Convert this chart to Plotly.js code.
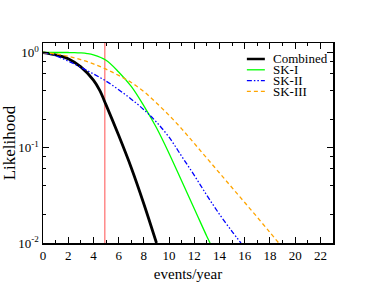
<!DOCTYPE html>
<html><head><meta charset="utf-8">
<script src="https://cdn.plot.ly/plotly-3.0.1.min.js"></script>
<style>html,body{margin:0;padding:0;background:#fff}#c{width:374px;height:289px}</style>
</head><body><div id="c"></div>
<script>
// Data (likelihood values, read on the log scale)
const seriesNames = ["Combined", "SK-I", "SK-II", "SK-III"];
const combinedX = [0, 1, 2, 3, 4, 4.5, 5, 6, 7, 8, 9];
const combinedY = [1.0, 0.946, 0.861, 0.708, 0.513, 0.40, 0.282, 0.135, 0.0617, 0.0257, 0.0100];
const sk1X = [0, 1, 2, 2.5, 3, 3.5, 4, 5, 6, 7, 8, 9, 10, 11, 12, 13, 13.25];
const sk1Y = [1.0, 1.0, 1.0, 0.998, 0.99, 0.975, 0.945, 0.83, 0.625, 0.44, 0.275, 0.162, 0.0871, 0.0447, 0.0229, 0.0117, 0.0100];
const sk2X = [0, 1, 2, 3, 4, 5, 6, 7, 8, 9, 10, 11, 12, 13, 14, 15, 15.7];
const sk2Y = [1.0, 0.925, 0.813, 0.700, 0.596, 0.501, 0.407, 0.324, 0.251, 0.186, 0.129, 0.0813, 0.0513, 0.0316, 0.0200, 0.0132, 0.0100];
const sk3X = [0, 1, 2, 3, 4, 5, 6, 7, 8, 9, 10, 11, 12, 13, 14, 15, 16, 17, 18, 18.7];
const sk3Y = [1.0, 0.966, 0.912, 0.841, 0.759, 0.668, 0.575, 0.484, 0.389, 0.295, 0.219, 0.158, 0.111, 0.0776, 0.0543, 0.0380, 0.0266, 0.0186, 0.0129, 0.0100];
const threshold = 4.9;
const xTickVals = [0, 2, 4, 6, 8, 10, 12, 14, 16, 18, 20, 22];
const yTickVals = [0.01, 0.1, 1];
const yTickText = ["10<sup>-2</sup>", "10<sup>-1</sup>", "10<sup>0</sup>"];
const yMinorVals = [0.02, 0.04, 0.06, 0.08, 0.2, 0.4, 0.6, 0.8];

const xs = [combinedX, sk1X, sk2X, sk3X];
const ys = [combinedY, sk1Y, sk2Y, sk3Y];
const styles = [
  {color: "#000000", width: 2.8, dash: "solid"},
  {color: "#00ff00", width: 1.3, dash: "solid"},
  {color: "#0000ff", width: 1.3, dash: "5px,2px,1.5px,2px,1.5px,2px"},
  {color: "#ffa500", width: 1.3, dash: "4px,3px"}
];
const font = "Liberation Serif, Times New Roman, serif";

const traces = seriesNames.map((n, i) => ({
  type: "scatter", mode: "lines", name: n, x: xs[i], y: ys[i],
  line: Object.assign({shape: "spline", smoothing: 1}, styles[i]),
  showlegend: false, hoverinfo: "skip"
}));

// compact legend drawn as shapes + text
const shapes = [{type: "line", xref: "x", yref: "paper", x0: threshold, x1: threshold, y0: 0, y1: 1,
  line: {color: "#ff8a8a", width: 1.5}, layer: "below"}];
const annotations = [];
const legX0 = 0.703, legX1 = 0.765, legTop = 0.92, legStep = 0.054;
seriesNames.forEach((n, i) => {
  const yy = legTop - i * legStep;
  shapes.push({type: "line", xref: "paper", yref: "paper", x0: legX0, x1: legX1, y0: yy, y1: yy,
    line: {color: styles[i].color, width: i === 0 ? 2.5 : 1.3, dash: styles[i].dash}});
  annotations.push({xref: "paper", yref: "paper", x: legX1 + 0.02, y: yy, xanchor: "left", yanchor: "middle",
    text: n, showarrow: false, font: {family: font, size: 13, color: "#000"}});
});

const layout = {
  width: 374, height: 289,
  margin: {l: 43, r: 41, t: 43, b: 46},
  paper_bgcolor: "#fff", plot_bgcolor: "#fff",
  font: {family: font, size: 12, color: "#000"},
  showlegend: false,
  xaxis: {
    range: [0, 23], tickmode: "array", tickvals: xTickVals,
    ticks: "inside", ticklen: 6, tickwidth: 1, tickcolor: "#000",
    minor: {dtick: 1, tick0: 0, ticks: "inside", ticklen: 3, tickcolor: "#000"},
    showline: true, linecolor: "#000", linewidth: 1.5, mirror: "ticks",
    showgrid: false, zeroline: false,
    tickfont: {family: font, size: 13},
    title: {text: "events/year", font: {family: font, size: 15}, standoff: 6}
  },
  yaxis: {
    type: "log", range: [-2, 0.1], tickmode: "array", tickvals: yTickVals, ticktext: yTickText,
    ticks: "inside", ticklen: 6, tickwidth: 1, tickcolor: "#000",
    minor: {tickmode: "array", tickvals: yMinorVals, ticks: "inside", ticklen: 3, tickcolor: "#000"},
    showline: true, linecolor: "#000", linewidth: 1.5, mirror: "ticks",
    showgrid: false, zeroline: false,
    tickfont: {family: font, size: 13},
    title: {text: "Likelihood", font: {family: font, size: 17}, standoff: 3}
  },
  shapes: shapes, annotations: annotations
};
Plotly.newPlot("c", traces, layout, {staticPlot: true});
</script></body></html>
